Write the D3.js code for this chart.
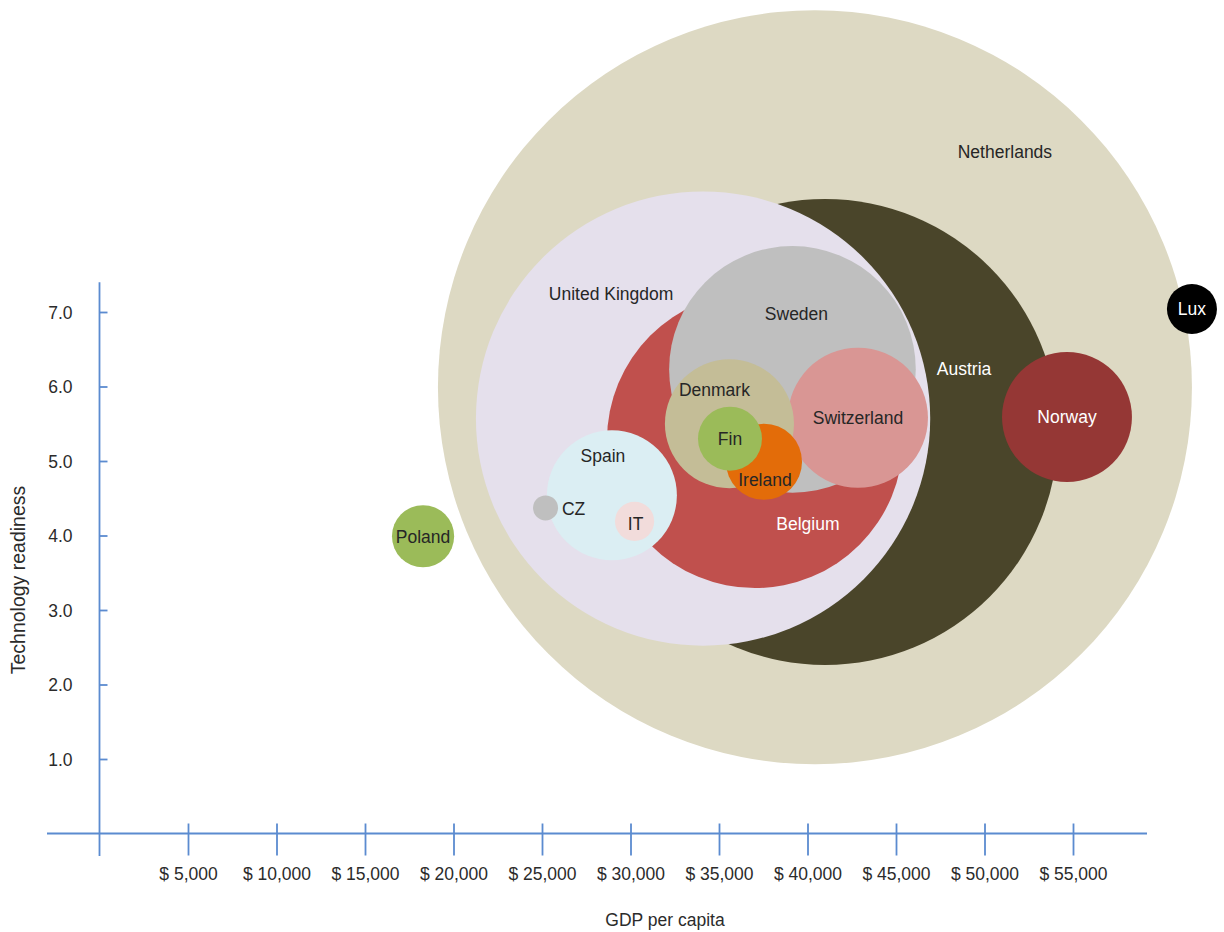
<!DOCTYPE html>
<html>
<head>
  <meta charset="UTF-8">
  <title>Technology readiness vs GDP per capita</title>
  <script src="https://d3js.org/d3.v7.min.js"></script>
  <style>
    body { margin: 0; background: #fff; }
    text { font-family: "Liberation Sans", Arial, sans-serif; }
  </style>
</head>
<body>
  <script>
    // data
    var countries = ["Netherlands", "Austria", "United Kingdom", "Belgium", "Sweden", "Switzerland",
      "Denmark", "Ireland", "Fin", "Spain", "CZ", "IT", "Poland", "Norway", "Lux"];
    var gdp = [40420, 40990, 34100, 37030, 39150, 42850, 35590, 37540, 35620, 28950, 25200, 30230, 18280, 54660, 61720];
    var tech = [5.99, 5.39, 5.57, 5.28, 6.23, 5.58, 5.50, 4.99, 5.30, 4.54, 4.37, 4.19, 3.99, 5.59, 7.04];
    var bubble = [100, 38.2, 36.3, 15.4, 10.7, 3.45, 2.93, 1.02, 0.72, 2.97, 0.11, 0.27, 0.68, 2.97, 0.44];

    var xTicks = [5000, 10000, 15000, 20000, 25000, 30000, 35000, 40000, 45000, 50000, 55000];
    var yTicks = [1, 2, 3, 4, 5, 6, 7];

    var colors = ["#DDD9C3", "#4A452A", "#E5E0EC", "#C0504D", "#BFBFBF", "#D99694",
      "#C4BD97", "#E36C09", "#9BBB59", "#DBEEF3", "#BFBFBF", "#F2DCDB", "#9BBB59", "#953735", "#000000"];
    var whiteLabels = ["Austria", "Belgium", "Norway", "Lux"];
    // label offsets (px) from bubble centre
    var labelOffset = {
      "Netherlands": [190, -236], "Austria": [139, -63], "United Kingdom": [-92, -125],
      "Belgium": [53, 84], "Sweden": [4, -56], "Denmark": [-15, -34], "Ireland": [1, 18],
      "Spain": [-9, -40], "CZ": [28, 1], "IT": [1, 2]
    };

    var width = 1224, height = 932;
    var axisColor = "#5b8bd0";

    var svg = d3.select("body").append("svg")
      .attr("width", width)
      .attr("height", height);

    var x = d3.scaleLinear().domain([0, 60000]).range([99.5, 1161.5]);
    var y = d3.scaleLinear().domain([0, 7]).range([833.5, 312]);
    var r = d3.scaleSqrt().domain([0, 100]).range([0, 377]);

    var data = countries.map(function (c, i) {
      return { name: c, gdp: gdp[i], tech: tech[i], size: bubble[i], color: colors[i] };
    });

    // bubbles
    svg.append("g").selectAll("circle")
      .data(data)
      .enter()
      .append("circle")
      .attr("cx", function (d) { return x(d.gdp); })
      .attr("cy", function (d) { return y(d.tech); })
      .attr("r", function (d) { return r(d.size); })
      .attr("fill", function (d) { return d.color; });

    // axes
    var xAxis = svg.append("g")
      .attr("transform", "translate(0," + y(0) + ")")
      .call(d3.axisBottom(x).tickValues(xTicks).tickSize(22)
        .tickFormat(function (d) { return "$ " + d3.format(",")(d); }));
    xAxis.select(".domain").remove();
    xAxis.selectAll(".tick line").attr("y1", -10).attr("stroke", axisColor).attr("stroke-width", 1.8);
    xAxis.selectAll(".tick text").attr("y", 46).attr("dy", 0)
      .attr("fill", "#2b2b2b").style("font-size", "17.5px");
    xAxis.append("line")
      .attr("x1", 47).attr("x2", 1147)
      .attr("stroke", axisColor).attr("stroke-width", 1.8);

    var yAxis = svg.append("g")
      .attr("transform", "translate(" + x(0) + ",0)")
      .call(d3.axisLeft(y).tickValues(yTicks).tickSize(18).tickFormat(d3.format(".1f")));
    yAxis.select(".domain").remove();
    yAxis.selectAll(".tick line").attr("x2", 8).attr("stroke", axisColor).attr("stroke-width", 1.8);
    yAxis.selectAll(".tick text").attr("x", -27).attr("dy", "0.36em")
      .attr("fill", "#2b2b2b").style("font-size", "17.5px");
    yAxis.append("line")
      .attr("y1", y(7.4)).attr("y2", 856)
      .attr("stroke", axisColor).attr("stroke-width", 1.8);

    // bubble labels
    svg.append("g").selectAll("text")
      .data(data)
      .enter()
      .append("text")
      .attr("x", function (d) { return x(d.gdp) + (labelOffset[d.name] ? labelOffset[d.name][0] : 0); })
      .attr("y", function (d) { return y(d.tech) + (labelOffset[d.name] ? labelOffset[d.name][1] : 0); })
      .attr("dy", "0.36em")
      .attr("text-anchor", "middle")
      .attr("fill", function (d) { return whiteLabels.indexOf(d.name) >= 0 ? "#ffffff" : "#262626"; })
      .style("font-size", "17.5px")
      .text(function (d) { return d.name; });

    // axis titles
    svg.append("text")
      .attr("x", 665)
      .attr("y", 926)
      .attr("text-anchor", "middle")
      .attr("fill", "#2b2b2b")
      .style("font-size", "17.5px")
      .text("GDP per capita");

    svg.append("text")
      .attr("transform", "translate(25,580) rotate(-90)")
      .attr("text-anchor", "middle")
      .attr("fill", "#2b2b2b")
      .style("font-size", "19.5px")
      .text("Technology readiness");
  </script>
</body>
</html>
